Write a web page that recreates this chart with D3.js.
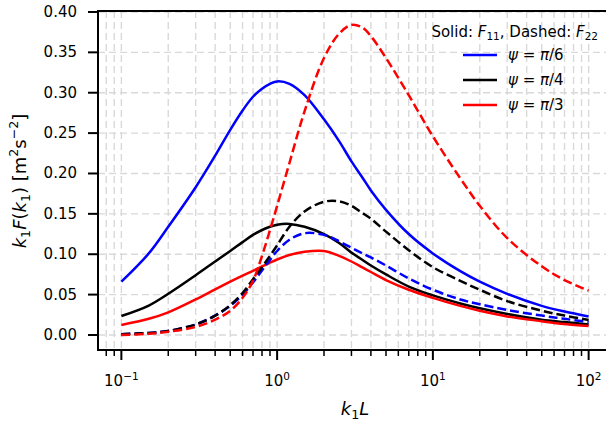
<!DOCTYPE html>
<html>
<head>
<meta charset="utf-8">
<script src="https://cdn.jsdelivr.net/npm/d3@7"></script>
<style>
body { margin: 0; background: #fff; }
svg { display: block; font-family: 'DejaVu Sans', sans-serif; }
</style>
</head>
<body>
<svg width="606" height="423"></svg>
<script>
var kValues = [0.1, 0.15, 0.2, 0.3, 0.4, 0.5, 0.6, 0.7, 0.8, 0.9, 1, 1.2, 1.5, 2, 2.5, 3, 3.5, 4, 5, 7, 10, 15, 20, 30, 50, 70, 100];

// psi = pi/6
var f11Pi6 = [0.066, 0.101, 0.134, 0.183, 0.222, 0.254, 0.278, 0.295, 0.305, 0.311, 0.314, 0.311, 0.297, 0.267, 0.240, 0.215, 0.196, 0.179, 0.155, 0.125, 0.101, 0.079, 0.066, 0.051, 0.036, 0.029, 0.023];
var f22Pi6 = [0.001, 0.0025, 0.005, 0.013, 0.024, 0.036, 0.050, 0.065, 0.080, 0.093, 0.104, 0.118, 0.126, 0.124, 0.116, 0.108, 0.1015, 0.096, 0.086, 0.070, 0.056, 0.044, 0.038, 0.031, 0.024, 0.020, 0.016];
// psi = pi/4
var f11Pi4 = [0.0235, 0.0365, 0.051, 0.074, 0.091, 0.104, 0.115, 0.124, 0.130, 0.134, 0.1365, 0.1375, 0.134, 0.125, 0.114, 0.102, 0.0935, 0.086, 0.075, 0.060, 0.049, 0.039, 0.033, 0.026, 0.019, 0.016, 0.013];
var f22Pi4 = [0.001, 0.0025, 0.005, 0.013, 0.024, 0.037, 0.052, 0.069, 0.084, 0.098, 0.111, 0.134, 0.153, 0.165, 0.1655, 0.160, 0.1515, 0.144, 0.128, 0.105, 0.084, 0.067, 0.056, 0.042, 0.030, 0.024, 0.0186];
// psi = pi/3
var f11Pi3 = [0.0124, 0.020, 0.028, 0.044, 0.0565, 0.066, 0.0735, 0.0795, 0.085, 0.0895, 0.0935, 0.099, 0.103, 0.104, 0.098, 0.091, 0.084, 0.078, 0.068, 0.056, 0.046, 0.036, 0.030, 0.023, 0.017, 0.0135, 0.011];
var f22Pi3 = [0.000, 0.0015, 0.004, 0.010, 0.019, 0.030, 0.046, 0.067, 0.098, 0.130, 0.160, 0.213, 0.277, 0.343, 0.373, 0.384, 0.381, 0.370, 0.343, 0.297, 0.246, 0.194, 0.160, 0.120, 0.085, 0.068, 0.055];

var psiLabels = ['π/6', 'π/4', 'π/3'];
var psiColors = ['#0000ff', '#000000', '#ff0000'];
var yTicks = [0, 0.05, 0.10, 0.15, 0.20, 0.25, 0.30, 0.35, 0.40];
var xMajorTicks = [0.1, 1, 10, 100];
var xExponents = ['−1', '0', '1', '2'];

var series = [
    {values: f11Pi6, color: psiColors[0], dashed: false},
    {values: f11Pi4, color: psiColors[1], dashed: false},
    {values: f11Pi3, color: psiColors[2], dashed: false},
    {values: f22Pi6, color: psiColors[0], dashed: true},
    {values: f22Pi4, color: psiColors[1], dashed: true},
    {values: f22Pi3, color: psiColors[2], dashed: true}
];

var svg = d3.select('svg');
var plotLeft = 98, plotRight = 612, plotTop = 11, plotBottom = 350;

var x = d3.scaleLog()
    .domain([Math.pow(10, -1.15), Math.pow(10, 2.15)])
    .range([plotLeft, plotRight]);
var y = d3.scaleLinear()
    .domain([-0.0186, 0.4012])
    .range([plotBottom, plotTop]);

// minor ticks of the log axis
var xMinorTicks = [];
[0.01, 0.1, 1, 10].forEach(function(dec){
    for (var m = 2; m <= 9; m++) {
        var v = m * dec;
        if (v >= x.domain()[0] && v <= x.domain()[1]) xMinorTicks.push(v);
    }
});

// rich text helper for sub/superscripts and italics
function rich(sel, parts, size){
    var shift = 0;
    parts.forEach(function(p){
        var target = p[2] === 'sub' ? 0.22 : (p[2] === 'sup' ? -0.42 : 0);
        sel.append('tspan')
            .text(p[0])
            .attr('dy', ((target - shift) * size) + 'px')
            .style('font-size', (p[2] ? size * 0.7 : size) + 'px')
            .style('font-style', p[1] === 'i' ? 'italic' : 'normal');
        shift = target;
    });
}

// grid
var grid = svg.append('g');
grid.selectAll('.vgrid')
    .data(xMajorTicks.concat(xMinorTicks))
    .enter()
    .append('line')
    .attr('x1', function(d){ return x(d); })
    .attr('x2', function(d){ return x(d); })
    .attr('y1', plotTop)
    .attr('y2', plotBottom)
    .attr('stroke', '#d9d9d9')
    .attr('stroke-width', 1.4)
    .attr('stroke-dasharray', '7,4');
grid.selectAll('.hgrid')
    .data(yTicks)
    .enter()
    .append('line')
    .attr('x1', plotLeft)
    .attr('x2', plotRight)
    .attr('y1', function(d){ return y(d); })
    .attr('y2', function(d){ return y(d); })
    .attr('stroke', '#d9d9d9')
    .attr('stroke-width', 1.4)
    .attr('stroke-dasharray', '7,4');

svg.append('clipPath')
    .attr('id', 'plotclip')
    .append('rect')
    .attr('x', plotLeft)
    .attr('y', plotTop)
    .attr('width', plotRight - plotLeft)
    .attr('height', plotBottom - plotTop);

var lineFunction = d3.line()
    .x(function(d, i){ return x(kValues[i]); })
    .y(function(d){ return y(d); })
    .curve(d3.curveCatmullRom.alpha(0.5));

svg.append('g')
    .attr('clip-path', 'url(#plotclip)')
    .selectAll('path')
    .data(series)
    .enter()
    .append('path')
    .attr('d', function(d){ return lineFunction(d.values); })
    .attr('fill', 'none')
    .attr('stroke', function(d){ return d.color; })
    .attr('stroke-width', 2.5)
    .attr('stroke-dasharray', function(d){ return d.dashed ? '9,4' : null; });

// spines
svg.append('rect')
    .attr('x', plotLeft)
    .attr('y', plotTop)
    .attr('width', plotRight - plotLeft)
    .attr('height', plotBottom - plotTop)
    .attr('fill', 'none')
    .attr('stroke', '#000')
    .attr('stroke-width', 2);

// y ticks
svg.selectAll('.ytick')
    .data(yTicks)
    .enter()
    .append('line')
    .attr('x1', plotLeft - 10)
    .attr('x2', plotLeft)
    .attr('y1', function(d){ return y(d); })
    .attr('y2', function(d){ return y(d); })
    .attr('stroke', '#000')
    .attr('stroke-width', 2);
svg.selectAll('.ylab')
    .data(yTicks)
    .enter()
    .append('text')
    .attr('x', plotLeft - 21)
    .attr('y', function(d){ return y(d) + 5; })
    .attr('text-anchor', 'end')
    .style('font-size', '15px')
    .text(function(d){ return d3.format('.2f')(d); });

// x ticks
svg.selectAll('.xmajor')
    .data(xMajorTicks)
    .enter()
    .append('line')
    .attr('x1', function(d){ return x(d); })
    .attr('x2', function(d){ return x(d); })
    .attr('y1', plotBottom)
    .attr('y2', plotBottom + 10)
    .attr('stroke', '#000')
    .attr('stroke-width', 2);
svg.selectAll('.xminor')
    .data(xMinorTicks)
    .enter()
    .append('line')
    .attr('x1', function(d){ return x(d); })
    .attr('x2', function(d){ return x(d); })
    .attr('y1', plotBottom)
    .attr('y2', plotBottom + 6)
    .attr('stroke', '#000')
    .attr('stroke-width', 1.5);
xMajorTicks.forEach(function(d, i){
    var t = svg.append('text')
        .attr('x', x(d))
        .attr('y', 386)
        .attr('text-anchor', 'middle')
        .style('font-size', '15px');
    rich(t, [['10', 'n'], [xExponents[i], 'n', 'sup']], 15);
});

// axis labels
var xl = svg.append('text')
    .attr('x', 355)
    .attr('y', 415)
    .attr('text-anchor', 'middle')
    .style('font-size', '18px');
rich(xl, [['k', 'i'], ['1', 'n', 'sub'], ['L', 'i']], 18);

var yl = svg.append('text')
    .attr('transform', 'translate(26,181) rotate(-90)')
    .attr('text-anchor', 'middle')
    .style('font-size', '18px');
rich(yl, [['k', 'i'], ['1', 'n', 'sub'], ['F', 'i'], ['(', 'n'], ['k', 'i'], ['1', 'n', 'sub'], [') [m', 'n'], ['2', 'n', 'sup'], ['s', 'n'], ['−2', 'n', 'sup'], [']', 'n']], 18);

// legend
var lt = svg.append('text')
    .attr('x', 598)
    .attr('y', 37)
    .attr('text-anchor', 'end')
    .style('font-size', '15px');
rich(lt, [['Solid: ', 'n'], ['F', 'i'], ['11', 'n', 'sub'], [', Dashed: ', 'n'], ['F', 'i'], ['22', 'n', 'sub']], 15);

psiLabels.forEach(function(lab, i){
    var ly = 55 + i * 25;
    svg.append('line')
        .attr('x1', 463)
        .attr('x2', 497)
        .attr('y1', ly)
        .attr('y2', ly)
        .attr('stroke', psiColors[i])
        .attr('stroke-width', 2.5);
    var t = svg.append('text')
        .attr('x', 508)
        .attr('y', ly + 5)
        .style('font-size', '15px');
    rich(t, [['ψ', 'i'], [' = ', 'n'], [lab.charAt(0), 'i'], [lab.slice(1), 'n']], 15);
});
</script>
</body>
</html>
